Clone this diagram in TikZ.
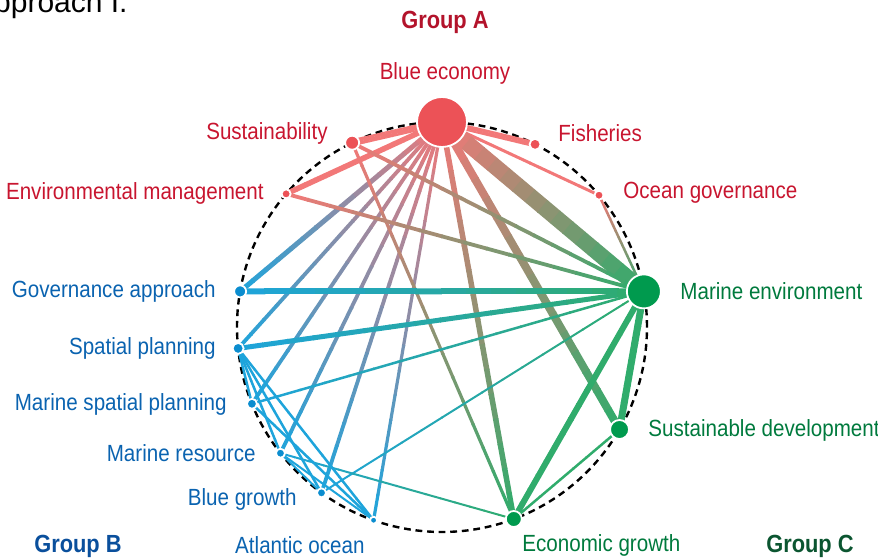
\documentclass[tikz,border=0pt]{standalone}
\usepackage{fontspec}
\setmainfont{Liberation Sans}[FakeStretch=0.88]
\newfontfamily\titlefont{Liberation Sans}
\usetikzlibrary{calc,backgrounds}

\definecolor{grpA}{HTML}{EC5257}
\definecolor{grpB}{HTML}{0B8DCF}
\definecolor{grpC}{HTML}{009A4E}
\definecolor{edgeA}{HTML}{F27878}
\definecolor{edgeB}{HTML}{1EA4DB}
\definecolor{edgeC}{HTML}{30AC6C}
\definecolor{txtA}{HTML}{C8152F}
\definecolor{txtB}{HTML}{0A63B0}
\definecolor{txtC}{HTML}{007A3D}
\definecolor{hdA}{HTML}{B3132B}
\definecolor{hdB}{HTML}{0A4F9C}
\definecolor{hdC}{HTML}{0B5530}

\tikzset{
  dot/.style={circle, draw=white, line width=0.9pt, inner sep=0pt},
  lbl/.style={inner sep=0pt, font=\fontsize{11.7}{13}\selectfont},
  grp/.style={inner sep=0pt, font=\fontsize{12.4}{14}\selectfont\bfseries},
}

% gradient connector: from, to, colour at from, colour at to, width
\newcommand{\conn}[5]{%
  \foreach \k in {1,...,16}{%
    \pgfmathsetmacro{\pct}{100-100*(\k-0.5)/16}%
    \draw[line width=#5, color=#3!\pct!#4] ($(#1)!{(\k-1.05)/16}!(#2)$) -- ($(#1)!{\k/16}!(#2)$);
  }}

\begin{document}
\begin{tikzpicture}[x=0.5pt,y=0.5pt]
  \useasboundingbox (-442,-233) rectangle (436,327);
  \coordinate (c) at (0,0);

  % Group A
  \node[dot, fill=grpA, minimum size=25pt] (be) at (90:205) {};
  \node[dot, fill=grpA, minimum size=7pt] (su) at (116:205) {};
  \node[dot, fill=grpA, minimum size=5.5pt] (fi) at (63:205) {};
  \node[dot, fill=grpA, minimum size=4.5pt] (em) at (139.5:205) {};
  \node[dot, fill=grpA, minimum size=4.5pt] (og) at (40:205) {};
  % Group B
  \node[dot, fill=grpB, minimum size=6pt] (ga) at (170:205) {};
  \node[dot, fill=grpB, minimum size=5.5pt] (sp) at (186:205) {};
  \node[dot, fill=grpB, minimum size=5pt] (msp) at (202:205) {};
  \node[dot, fill=grpB, minimum size=4.5pt] (mr) at (218:205) {};
  \node[dot, fill=grpB, minimum size=4.5pt] (bg) at (234:205) {};
  \node[dot, fill=grpB, minimum size=3.5pt] (ao) at (250.5:205) {};
  % Group C
  \node[dot, fill=grpC, minimum size=17pt] (me) at (10:205) {};
  \node[dot, fill=grpC, minimum size=9.5pt] (sd) at (330:205) {};
  \node[dot, fill=grpC, minimum size=8pt] (eg) at (290.5:205) {};

  \begin{pgfonlayer}{background}
    \draw[line width=1.2pt, dash pattern=on 3.4pt off 2.4pt] (c) circle (205);
    \conn{be}{su}{edgeA}{edgeA}{3.5pt}
    \conn{be}{fi}{edgeA}{edgeA}{3pt}
    \conn{be}{em}{edgeA}{edgeA}{2.75pt}
    \conn{be}{og}{edgeA}{edgeA}{1.5pt}
    \conn{be}{me}{edgeA}{edgeC}{8pt}
    \conn{be}{ga}{edgeA}{edgeB}{2.5pt}
    \conn{be}{sp}{edgeA}{edgeB}{1.9pt}
    \conn{be}{msp}{edgeA}{edgeB}{1.9pt}
    \conn{be}{mr}{edgeA}{edgeB}{1.9pt}
    \conn{be}{bg}{edgeA}{edgeB}{1.9pt}
    \conn{be}{ao}{edgeA}{edgeB}{1.6pt}
    \conn{be}{eg}{edgeA}{edgeC}{2.75pt}
    \conn{be}{sd}{edgeA}{edgeC}{4pt}
    \conn{su}{me}{edgeA}{edgeC}{1.9pt}
    \conn{su}{eg}{edgeA}{edgeC}{1.6pt}
    \conn{em}{me}{edgeA}{edgeC}{1.9pt}
    \conn{og}{me}{edgeA}{edgeC}{1.25pt}
    \conn{ga}{me}{edgeB}{edgeC}{3pt}
    \conn{sp}{me}{edgeB}{edgeC}{2.5pt}
    \conn{msp}{me}{edgeB}{edgeC}{1.25pt}
    \conn{bg}{me}{edgeB}{edgeC}{1pt}
    \conn{mr}{eg}{edgeB}{edgeC}{1pt}
    \conn{me}{sd}{edgeC}{edgeC}{3.5pt}
    \conn{me}{eg}{edgeC}{edgeC}{3pt}
    \conn{sd}{eg}{edgeC}{edgeC}{1.25pt}
    \conn{sp}{msp}{edgeB}{edgeB}{1.25pt}
    \conn{sp}{mr}{edgeB}{edgeB}{1.25pt}
    \conn{sp}{bg}{edgeB}{edgeB}{1.25pt}
    \conn{sp}{ao}{edgeB}{edgeB}{1.25pt}
    \conn{msp}{ao}{edgeB}{edgeB}{1.25pt}
    \conn{mr}{ao}{edgeB}{edgeB}{1pt}
    \conn{mr}{bg}{edgeB}{edgeB}{1pt}
  \end{pgfonlayer}

  % labels
  \node[anchor=base east, inner sep=0pt, font=\titlefont\fontsize{15}{18}\selectfont] (ttl) at (-314,314) {approach I.};
  \node[grp, text=hdA] (hA) at (3,305) {Group A};
  \node[grp, text=hdB] (hB) at (-364,-219) {Group B};
  \node[grp, text=hdC] (hC) at (368,-219) {Group C};
  \node[lbl, text=txtA] (lbe) at (3,254) {Blue economy};
  \node[lbl, text=txtA, anchor=east] (lsu) at (-114,194) {Sustainability};
  \node[lbl, text=txtA, anchor=west] (lfi) at (116,194) {Fisheries};
  \node[lbl, text=txtA, anchor=east] (lem) at (-178,134) {Environmental management};
  \node[lbl, text=txtA, anchor=west] (log) at (181,134) {Ocean governance};
  \node[lbl, text=txtB, anchor=east] (lga) at (-226,36) {Governance approach};
  \node[lbl, text=txtB, anchor=east] (lsp) at (-226,-21) {Spatial planning};
  \node[lbl, text=txtB, anchor=east] (lmsp) at (-215,-77) {Marine spatial planning};
  \node[lbl, text=txtB, anchor=east] (lmr) at (-186,-126) {Marine resource};
  \node[lbl, text=txtB, anchor=east] (lbg) at (-145,-172) {Blue growth};
  \node[lbl, text=txtB, anchor=east] (lao) at (-77,-218) {Atlantic ocean};
  \node[lbl, text=txtC, anchor=west] (lme) at (238,36) {Marine environment};
  \node[lbl, text=txtC, anchor=west] (lsd) at (206,-103) {Sustainable development};
  \node[lbl, text=txtC, anchor=west] (leg) at (80,-218) {Economic growth};
\end{tikzpicture}
\end{document}
